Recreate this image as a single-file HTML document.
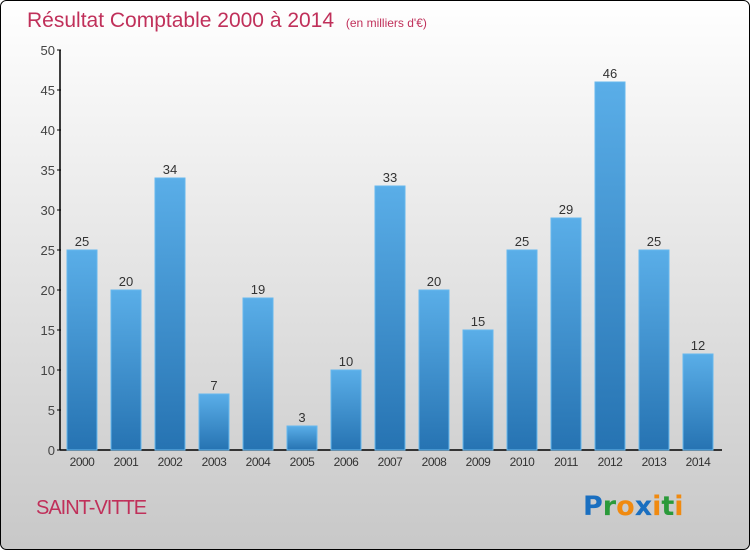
<!DOCTYPE html>
<html><head><meta charset="utf-8"><style>
body{margin:0}
#c{width:750px;height:550px;position:relative;overflow:hidden;font-family:"Liberation Sans",sans-serif}
</style></head><body>
<div id="c">
<svg width="750" height="550" id="s">
<defs>
<linearGradient id="bg" x1="0" y1="0" x2="0" y2="1"><stop offset="0" stop-color="#ffffff"/><stop offset="1" stop-color="#c8c8c8"/></linearGradient>
<linearGradient id="bar" x1="0" y1="0" x2="0" y2="1"><stop offset="0" stop-color="#5aaee8"/><stop offset="1" stop-color="#2673b2"/></linearGradient>
</defs>
<rect x="0.5" y="0.5" width="749" height="549" rx="6" fill="url(#bg)" stroke="#000"/>
<text x="27" y="27" font-size="21" fill="#c0305a">Résultat Comptable 2000 à 2014 <tspan font-size="12" dx="6">(en milliers d'€)</tspan></text>
<text x="36" y="514" font-size="20" fill="#c0305a" letter-spacing="-1">SAINT-VITTE</text>
<text x="583" y="515" font-size="27" font-weight="bold" font-family="'DejaVu Sans',sans-serif"><tspan fill="#1a6fc0">P</tspan><tspan fill="#2a9a3a">r</tspan><tspan fill="#f08a10">o</tspan><tspan fill="#1a6fc0">x</tspan><tspan fill="#f08a10">i</tspan><tspan fill="#2a9a3a">t</tspan><tspan fill="#f08a10">i</tspan></text>
<g id="g"></g>
</svg>
</div>
<script>
const categories=["2000","2001","2002","2003","2004","2005","2006","2007","2008","2009","2010","2011","2012","2013","2014"];
const values=[25,20,34,7,19,3,10,33,20,15,25,29,46,25,12];
const yTicks=[0,5,10,15,20,25,30,35,40,45,50];
const NS="http://www.w3.org/2000/svg";
const g=document.getElementById('g');
const y=v=>450-v*8;
const x=i=>82+i*44;
function mk(t,a,txt){const e=document.createElementNS(NS,t);for(const k in a)e.setAttribute(k,a[k]);if(txt!==undefined)e.textContent=txt;g.appendChild(e);return e;}
let e=mk('line',{x1:60,y1:50,x2:60,y2:450,stroke:'#000','stroke-width':1.5});


e=mk('line',{x1:60,y1:450,x2:722,y2:450,stroke:'#000','stroke-width':1.5});


yTicks.forEach(t=>{
 let l=mk('line',{x1:57,y1:y(t),x2:61,y2:y(t),stroke:'#000'});
 
 
 let tx=mk('text',{x:55,y:y(t)+5,'text-anchor':'end','font-size':13,fill:'#444'},t);
 
 
});
categories.forEach((c,i)=>{
 const v=values[i];
 let r=mk('rect',{x:x(i)-15,y:y(v),width:30,height:450-y(v),fill:'url(#bar)',stroke:'#66b8ee','stroke-width':1});
 
 
 let vl=mk('text',{x:x(i),y:y(v)-4,'text-anchor':'middle','font-size':13,fill:'#333'},v);
 
 
 let xl=mk('text',{x:x(i),y:466,'text-anchor':'middle','font-size':12,fill:'#333','letter-spacing':'-0.5'},c);
 
 
});
</script>
</body></html>
